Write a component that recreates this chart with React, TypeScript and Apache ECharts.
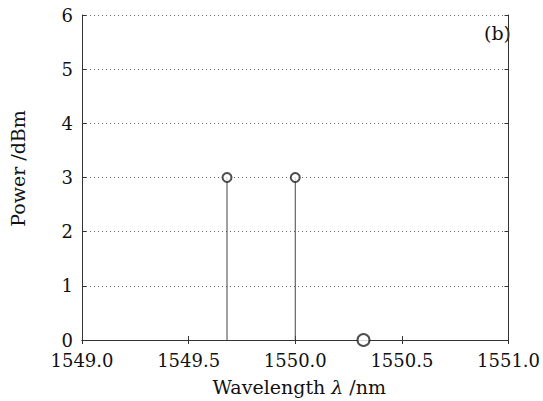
import React, { useEffect, useRef } from "react";
import * as echarts from "echarts";

const wavelengths = [1549.68, 1550.0, 1550.32];
const powers = [3, 3, 0];
const markerSizes = [9, 9, 12];
const xTicks = [1549.0, 1549.5, 1550.0, 1550.5, 1551.0];
const yTicks = [0, 1, 2, 3, 4, 5, 6];

const FONT = "'DejaVu Serif', 'Liberation Serif', serif";

export default function App() {
  const ref = useRef<HTMLDivElement>(null);
  useEffect(() => {
    const chart = echarts.init(ref.current!, undefined, { renderer: "svg" });
    const axisLine = { show: true, lineStyle: { color: "#333", width: 1 } };
    const stems = wavelengths.map((x, i) => [x, powers[i]]);
    chart.setOption({
      animation: false,
      backgroundColor: "#fff",
      grid: { left: 81, right: 26, top: 15, bottom: 57, containLabel: false },
      xAxis: [
        {
          type: "value",
          min: xTicks[0],
          max: xTicks[xTicks.length - 1],
          interval: 0.5,
          position: "bottom",
          axisLine,
          axisTick: { show: true, inside: true, length: 4, lineStyle: { color: "#333" } },
          splitLine: { show: false },
          axisLabel: {
            color: "#111",
            fontFamily: FONT,
            fontSize: 18,
            margin: 11,
            formatter: (v: number) => v.toFixed(1),
          },
          name: "{a|Wavelength }{b|λ}{a| /nm}",
          nameLocation: "middle",
          nameGap: 37,
          nameTextStyle: {
            padding: [0, 0, 0, 8],
            rich: {
              a: { fontFamily: FONT, fontSize: 19, color: "#111" },
              b: { fontFamily: FONT, fontSize: 19, color: "#111", fontStyle: "italic" },
            },
          },
        },
        {
          type: "value",
          min: xTicks[0],
          max: xTicks[xTicks.length - 1],
          interval: 0.5,
          position: "top",
          axisLine,
          axisTick: { show: true, inside: true, length: 4, lineStyle: { color: "#333" } },
          axisLabel: { show: false },
          splitLine: { show: false },
        },
      ],
      yAxis: [
        {
          type: "value",
          min: yTicks[0],
          max: yTicks[yTicks.length - 1],
          interval: 1,
          position: "left",
          axisLine,
          axisTick: { show: true, inside: true, length: 4, lineStyle: { color: "#333" } },
          splitLine: { show: true, lineStyle: { color: "#666", type: [1, 3], width: 1 } },
          axisLabel: { color: "#111", fontFamily: FONT, fontSize: 18, margin: 9 },
          name: "Power /dBm",
          nameLocation: "middle",
          nameGap: 55,
          nameTextStyle: {
            fontFamily: FONT,
            fontSize: 19,
            color: "#111",
            padding: [0, 0, 0, 18],
          },
        },
        {
          type: "value",
          min: yTicks[0],
          max: yTicks[yTicks.length - 1],
          interval: 1,
          position: "right",
          axisLine,
          axisTick: { show: true, inside: true, length: 4, lineStyle: { color: "#333" } },
          axisLabel: { show: false },
          splitLine: { show: false },
        },
      ],
      series: [
        {
          type: "bar",
          data: stems,
          barWidth: 1,
          itemStyle: { color: "#444" },
          silent: true,
        },
        {
          type: "scatter",
          data: stems.map((d, i) => ({ value: d, symbolSize: markerSizes[i] })),
          symbol: "emptyCircle",
          itemStyle: { color: "#222", borderColor: "#222", borderWidth: 0.8 },
          z: 5,
        },
      ],
      graphic: [
        {
          type: "text",
          right: 32,
          top: 23,
          style: { text: "(b)", fontFamily: FONT, fontSize: 19, fill: "#111" },
        },
      ],
    });
    return () => chart.dispose();
  }, []);
  return (
    <div
      ref={ref}
      style={{ position: "fixed", left: 0, top: 0, width: 543, height: 401 }}
    />
  );
}
